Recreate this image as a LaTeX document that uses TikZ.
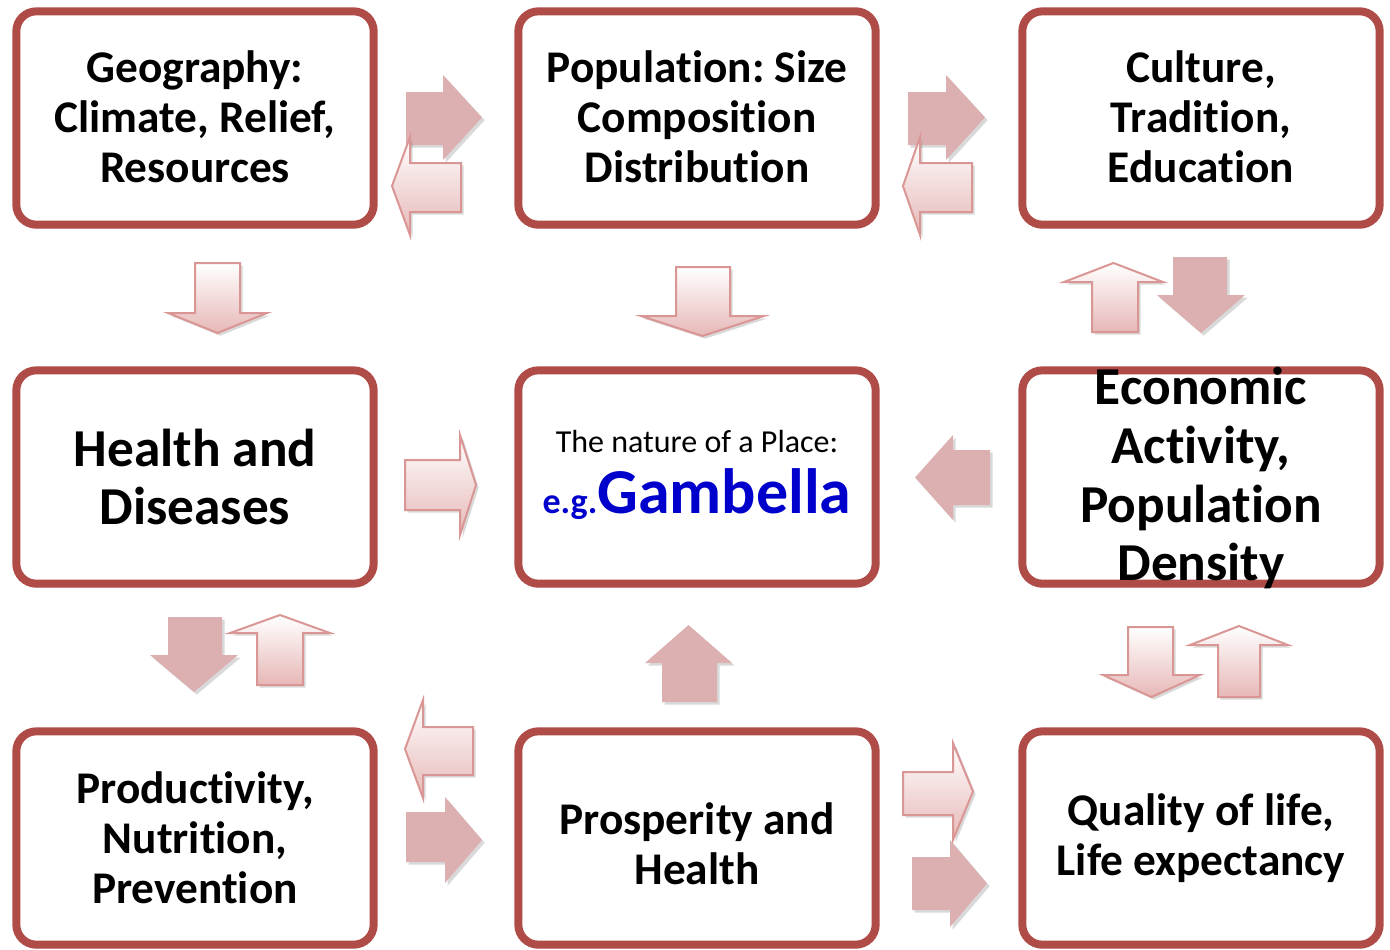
\documentclass[tikz,border=0pt]{standalone}
\usepackage{fontspec}
\setmainfont{Carlito}[Ligatures=NoCommon]
\usetikzlibrary{shadows}
\frenchspacing
\definecolor{boxred}{HTML}{B04C48}
\definecolor{arrpink}{HTML}{DCB0B1}
\definecolor{arrline}{HTML}{DA9694}
\definecolor{arrshade}{HTML}{E6B8B7}
\definecolor{placeblue}{HTML}{0000CC}
\tikzset{
  box/.style={draw=boxred, line width=6pt, rounded corners=15pt, fill=white,
    minimum width=268pt, minimum height=160pt,
    drop shadow={shadow xshift=0pt, shadow yshift=-3pt, opacity=0.25}},
  boxtext/.style={align=center, font=\fontsize{34}{37.5}\selectfont\bfseries},
  bigtext/.style={align=center, font=\fontsize{40}{44}\selectfont\bfseries},
  solidarr/.style={fill=arrpink, draw=none,
    drop shadow={shadow xshift=2pt, shadow yshift=-2pt, opacity=0.3}},
  openarr/.style={draw=arrline, line width=1.5pt, top color=white, bottom color=arrshade,
    drop shadow={shadow xshift=2pt, shadow yshift=-2pt, opacity=0.3}}
}
% horizontal block arrow: style, body start x, head base x, tip x, body y0, body y1, head y0, head y1
\newcommand{\harrow}[8]{\draw[#1] (#2,#5) -- (#3,#5) -- (#3,#7) -- (#4,{(#7+#8)/2}) -- (#3,#8) -- (#3,#6) -- (#2,#6) -- cycle;}
% vertical block arrow: style, body start y, head base y, tip y, body x0, body x1, head x0, head x1
\newcommand{\varrow}[8]{\draw[#1] (#5,#2) -- (#5,#3) -- (#7,#3) -- ({(#7+#8)/2},#4) -- (#8,#3) -- (#6,#3) -- (#6,#2) -- cycle;}
\begin{document}
\begin{tikzpicture}[x=0.75pt, y=-0.75pt]
\useasboundingbox (0,0) rectangle (1390,950);

% boxes
\node[box] (geo) at (195,118) {};
\node[box] (pop) at (697,118) {};
\node[box] (cult) at (1201,118) {};
\node[box] (health) at (195,477) {};
\node[box] (place) at (697,477) {};
\node[box] (econ) at (1201,477) {};
\node[box] (prod) at (195,838) {};
\node[box] (prosp) at (697,838) {};
\node[box] (qual) at (1201,838) {};

% texts
\node[boxtext] at ([yshift=1pt]geo) {Geography:\\Climate, Relief,\\Resources};
\node[boxtext] at ([yshift=1pt]pop) {Population: Size\\Composition\\Distribution};
\node[boxtext] at ([yshift=1pt]cult) {Culture,\\Tradition,\\Education};
\node[bigtext] at (health) {Health and\\Diseases};
\node[bigtext] at ([yshift=-1pt]econ) {Economic\\Activity,\\Population\\Density};
\node[boxtext] at (prod) {Productivity,\\Nutrition,\\Prevention};
\node[boxtext] at ([yshift=-4pt]prosp) {Prosperity and\\Health};
\node[boxtext] at (qual) {Quality of life,\\Life expectancy};
\node[font=\fontsize{24}{28}\selectfont] (nature) at (697,442) {The nature of a Place:};
\node[anchor=base, text=placeblue, font=\bfseries] at (697,513)
  {\fontsize{27}{30}\selectfont e.g.\fontsize{48}{52}\selectfont Gambella};

% top row arrows
\harrow{solidarr}{406}{443}{482}{92}{145}{75}{160}
\harrow{openarr}{461}{410}{392}{163}{212}{137}{235}
\harrow{solidarr}{908}{946}{985}{92}{145}{75}{160}
\harrow{openarr}{972}{920}{903}{163}{212}{137}{235}

% first to second row
\varrow{openarr}{263}{313}{333}{195}{240}{168}{267}
\varrow{openarr}{267}{316}{336}{676}{730}{641}{764}
\varrow{openarr}{332}{282}{263}{1092}{1138}{1064}{1163}
\varrow{solidarr}{257}{295}{333}{1173}{1227}{1157}{1245}

% middle row
\harrow{openarr}{405}{460}{476}{460}{510}{435}{535}
\harrow{solidarr}{990}{953}{915}{450}{505}{435}{520}

% second to third row
\varrow{solidarr}{617}{655}{692}{168}{222}{150}{238}
\varrow{openarr}{685}{633}{615}{257}{303}{230}{330}
\varrow{solidarr}{702}{663}{625}{662}{717}{645}{732}
\varrow{openarr}{627}{675}{697}{1128}{1173}{1103}{1200}
\varrow{openarr}{697}{645}{626}{1218}{1260}{1190}{1288}

% bottom row arrows
\harrow{openarr}{473}{423}{405}{727}{775}{700}{798}
\harrow{solidarr}{406}{445}{482}{812}{862}{797}{883}
\harrow{openarr}{903}{953}{973}{772}{815}{743}{840}
\harrow{solidarr}{912}{950}{987}{857}{910}{840}{927}
\end{tikzpicture}
\end{document}
